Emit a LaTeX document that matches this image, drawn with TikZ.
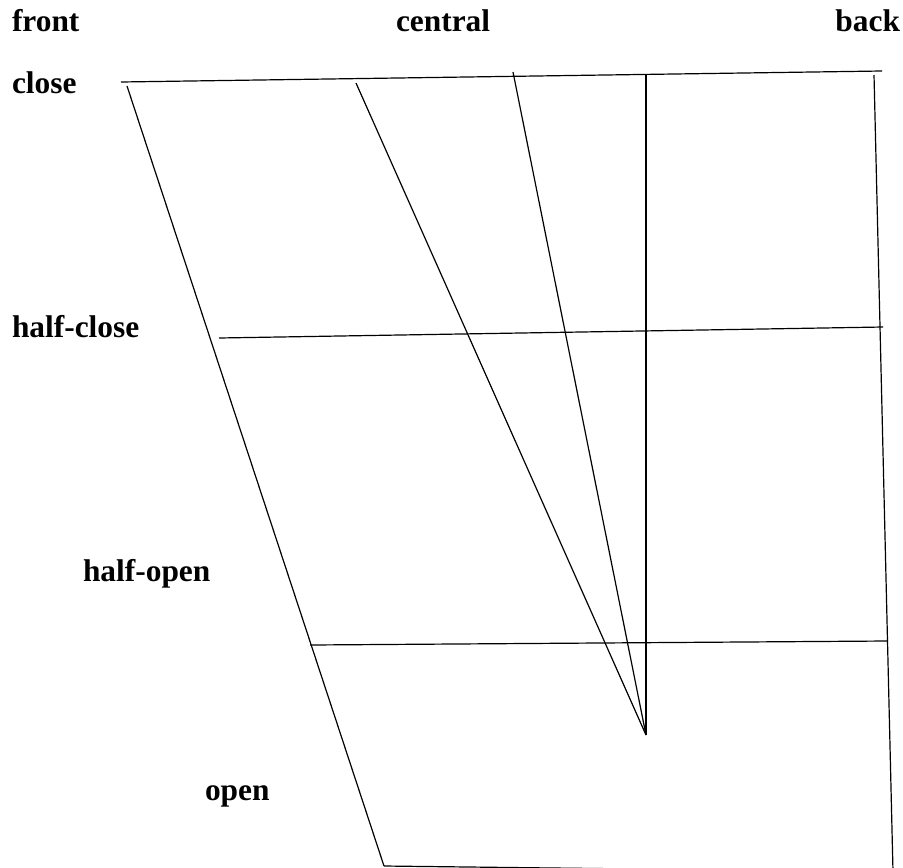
\documentclass[tikz,border=0pt]{standalone}
\usepackage{fontspec}
\setmainfont{Liberation Serif}[BoldFont={Liberation Serif Bold}]

\begin{document}
\begin{tikzpicture}[x=0.5pt, y=-0.5pt,
        every node/.style={inner sep=0pt, outer sep=0pt},
        RowLabel/.style={anchor=base west, font=\fontsize{15.7}{18}\selectfont\bfseries},
        ColLabel/.style={anchor=base west, font=\fontsize{15.7}{18}\selectfont\bfseries},
        Edge/.style={line width=0.6pt, black}]
        \useasboundingbox (0,0) rectangle (903,867);
        % corners of the chart
        \coordinate (CloseF) at (121,82);
        \coordinate (CloseB) at (882,71);
        \coordinate (LeftTop) at (127,86);
        \coordinate (OpenF) at (384,866);
        \coordinate (OpenB) at (893,872);
        \coordinate (RightTop) at (874,75);
        \coordinate (RightBot) at (893,872);
        \coordinate (HcF) at (219,338);
        \coordinate (HcB) at (883,327);
        \coordinate (HoF) at (310,645);
        \coordinate (HoB) at (887,641);
        \coordinate (DiagA) at (356,83);
        \coordinate (DiagB) at (513,72);
        \coordinate (Mid) at (646,75);
        \coordinate (Apex) at (646,735);
        % labels
        \node[ColLabel] (front) at (12,32) {front};
        \node[ColLabel] (central) at (396,32) {central};
        \node[ColLabel, anchor=base east] (back) at (900,32) {back};
        \node[RowLabel] (close) at (12,93) {close};
        \node[RowLabel] (halfclose) at (12,337) {half-close};
        \node[RowLabel] (halfopen) at (83,581) {half-open};
        \node[RowLabel] (open) at (205,800) {open};
        % lines
        \begin{scope}
        \clip (0,0) rectangle (903,867);
        \draw[Edge] (CloseF) -- (CloseB);
        \draw[Edge] (LeftTop) -- (OpenF);
        \draw[Edge] (OpenF) -- (OpenB);
        \draw[Edge] (RightTop) -- (RightBot);
        \draw[Edge] (HcF) -- (HcB);
        \draw[Edge] (HoF) -- (HoB);
        \draw[Edge] (DiagA) -- (Apex);
        \draw[Edge] (DiagB) -- (Apex);
        \draw[Edge] (Mid) -- (Apex);
        \end{scope}
\end{tikzpicture}
\end{document}
